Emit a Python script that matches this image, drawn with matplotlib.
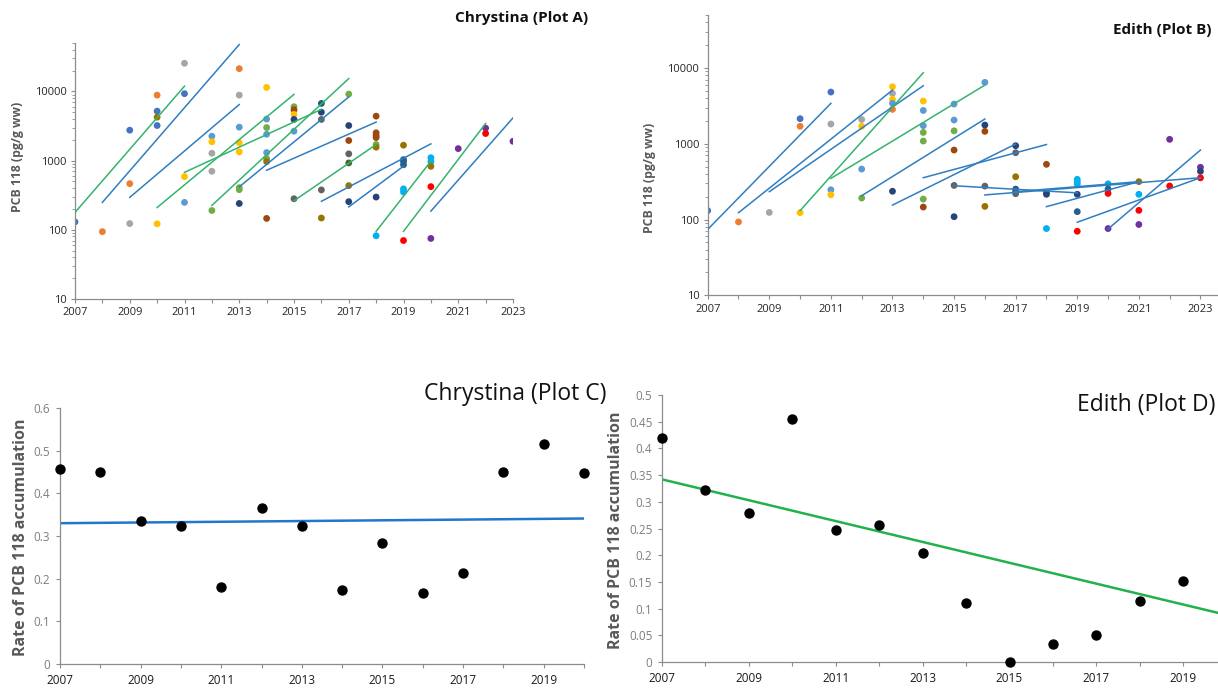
# PCB 118 in Chrystina and Edith: cohort trends (A, B) and accumulation rates (C, D)

import numpy as np
import matplotlib
matplotlib.use('Agg')
import matplotlib.pyplot as plt
from matplotlib import font_manager
from matplotlib.ticker import FixedLocator, LogLocator, NullFormatter, FuncFormatter

plt.rcParams['font.family'] = ['Open Sans', 'DejaVu Sans']
names = {f.name for f in font_manager.fontManager.ttflist}
narrow = 'Liberation Sans Narrow' if 'Liberation Sans Narrow' in names else 'Open Sans'

# excel style colours for the yearly samples
BL, OR, GR, YE, LB = '#4472C4', '#ED7D31', '#A5A5A5', '#FFC000', '#5B9BD5'
GN, NV, BR, DG, OL = '#70AD47', '#264478', '#9E480E', '#636363', '#997300'
DB, DK, CY, RD, PU, TL = '#255E91', '#43682B', '#00B0F0', '#FF0000', '#7030A0', '#1F5F6E'
LINE_B, LINE_G = '#2F7EC1', '#34B36F'

# ---- Plot A (Chrystina) samples
a_year = [2007, 2008,
          2009, 2009, 2009,
          2010, 2010, 2010, 2010, 2010,
          2011, 2011, 2011, 2011,
          2012, 2012, 2012, 2012, 2012,
          2013, 2013, 2013, 2013, 2013, 2013, 2013, 2013,
          2014, 2014, 2014, 2014, 2014, 2014, 2014, 2014,
          2015, 2015, 2015, 2015, 2015, 2015,
          2016, 2016, 2016, 2016, 2016,
          2017, 2017, 2017, 2017, 2017, 2017, 2017,
          2018, 2018, 2018, 2018, 2018, 2018, 2018, 2018,
          2019, 2019, 2019, 2019, 2019, 2019, 2019,
          2020, 2020, 2020, 2020, 2020,
          2021, 2022, 2022, 2023]
a_val = [130, 94,
         123, 464, 2750,
         8830, 5180, 4240, 3210, 122,
         25500, 9270, 586, 249,
         2250, 1870, 1276, 700, 190,
         21300, 8830, 3040, 1820, 1336, 406, 380, 240,
         11400, 3980, 3000, 2400, 1306, 1070, 967, 146,
         6000, 5420, 4640, 3930, 2660, 281,
         6700, 5000, 3930, 377, 148,
         9140, 3210, 1950, 1250, 925, 435, 255,
         4385, 2520, 2300, 2150, 1705, 1560, 297, 82,
         1667, 1032, 975, 870, 390, 352, 70,
         1100, 967, 826, 420, 75,
         1490, 2940, 2460, 1900]
a_col = [BL, OR,
         GR, OR, BL,
         OR, BL, OL, BL, YE,
         GR, BL, YE, LB,
         LB, YE, GR, GR, GN,
         OR, GR, LB, YE, YE, GN, GN, NV,
         YE, LB, GN, LB, LB, GN, OL, BR,
         GN, BR, YE, NV, LB, DG,
         TL, NV, DG, DG, OL,
         GN, NV, BR, DG, DK, OL, NV,
         BR, BR, BR, BR, GN, OL, NV, CY,
         OL, DB, DB, DB, CY, CY, RD,
         CY, CY, OL, RD, PU,
         PU, PU, RD, PU]

# Plot A trend lines: start year, end year, start value, end value, colour
a_x0 = [2007, 2008, 2009, 2010, 2011, 2012, 2013, 2014, 2015, 2016, 2017, 2018, 2019, 2020]
a_x1 = [2011, 2013, 2013, 2015, 2016, 2017, 2017, 2018, 2018, 2020, 2019, 2020, 2022, 2023]
a_y0 = [178, 249, 294, 210, 676, 225, 417, 725, 263, 258, 214, 95, 95, 186]
a_y1 = [11900, 47500, 6450, 9060, 5500, 15300, 8300, 3600, 1705, 1745, 830, 980, 3440, 4140]
a_lc = ['g', 'b', 'b', 'g', 'g', 'g', 'b', 'b', 'g', 'b', 'b', 'g', 'g', 'b']

# ---- Plot B (Edith) samples
b_year = [2007, 2008, 2009,
          2010, 2010, 2010,
          2011, 2011, 2011, 2011,
          2012, 2012, 2012, 2012,
          2013, 2013, 2013, 2013, 2013, 2013,
          2014, 2014, 2014, 2014, 2014, 2014, 2014,
          2015, 2015, 2015, 2015, 2015, 2015,
          2016, 2016, 2016, 2016, 2016,
          2017, 2017, 2017, 2017, 2017, 2017,
          2018, 2018, 2018, 2018,
          2019, 2019, 2019, 2019, 2019, 2019,
          2020, 2020, 2020, 2020,
          2021, 2021, 2021, 2021,
          2022, 2022,
          2023, 2023, 2023]
b_val = [131, 93, 124,
         2140, 1700, 123,
         4810, 1820, 247, 212,
         2090, 1700, 463, 192,
         5650, 4620, 3850, 3410, 2840, 236,
         3660, 2750, 1730, 1410, 1085, 186, 146,
         3340, 2055, 1480, 826, 282, 109,
         6460, 1766, 1458, 276, 149,
         942, 761, 367, 252, 233, 219,
         535, 228, 215, 76,
         339, 316, 294, 215, 127, 70,
         296, 252, 221, 76,
         316, 215, 132, 86,
         1143, 277,
         489, 433, 355]
b_col = [BL, OR, GR,
         BL, OR, YE,
         BL, GR, LB, YE,
         GR, YE, LB, GN,
         YE, GR, YE, LB, OR, NV,
         YE, LB, LB, GN, GN, GN, BR,
         LB, LB, GN, BR, DG, NV,
         LB, NV, BR, DG, OL,
         NV, DG, OL, DB, DB, DG,
         BR, DK, NV, CY,
         CY, CY, CY, NV, DB, RD,
         CY, DB, RD, PU,
         OL, CY, RD, PU,
         PU, RD,
         PU, NV, RD]

b_x0 = [2007, 2008, 2009, 2010, 2011, 2012, 2013, 2014, 2015, 2016, 2017, 2018, 2019, 2020]
b_x1 = [2011, 2013, 2014, 2014, 2016, 2016, 2017, 2018, 2019, 2023, 2021, 2021, 2023, 2023]
b_y0 = [74, 123, 233, 131, 349, 206, 155, 356, 279, 211, 233, 148, 92, 75]
b_y1 = [3410, 5100, 5820, 8650, 5940, 2120, 990, 977, 225, 356, 316, 316, 356, 826]
b_lc = ['b', 'b', 'b', 'g', 'g', 'b', 'b', 'b', 'b', 'b', 'b', 'b', 'b', 'b']

# ---- Plot C / D: rate of accumulation per year
c_year = list(range(2007, 2021))
c_rate = [0.456, 0.451, 0.336, 0.324, 0.181, 0.365, 0.323, 0.174, 0.284, 0.166,
          0.214, 0.451, 0.516, 0.448]
c_fit_x = [2007, 2020]
c_fit_y = [0.330, 0.341]

d_year = list(range(2007, 2020))
d_rate = [0.419, 0.323, 0.279, 0.455, 0.248, 0.256, 0.205, 0.111, 0.0, 0.034,
          0.050, 0.115, 0.151]
d_fit_x = [2007, 2019.8]
d_fit_y = [0.342, 0.092]

fig = plt.figure(figsize=(12.18, 6.94), dpi=100)
W, H = 1218.0, 694.0


def box(l, t, r, b):
    return [l / W, 1 - b / H, (r - l) / W, (b - t) / H]


def style_log(ax, xmax):
    ax.set_yscale('log')
    ax.set_ylim(10, 50000)
    ax.set_xlim(2007, xmax)
    ax.yaxis.set_major_locator(FixedLocator([10, 100, 1000, 10000]))
    ax.yaxis.set_major_formatter(FuncFormatter(lambda v, p: '%d' % v))
    ax.yaxis.set_minor_locator(LogLocator(base=10, subs=range(2, 10)))
    ax.yaxis.set_minor_formatter(NullFormatter())
    yrs = list(range(2007, 2024))
    ax.set_xticks(yrs)
    ax.set_xticklabels([str(y) if y % 2 == 1 else '' for y in yrs])
    for s in ['top', 'right']:
        ax.spines[s].set_visible(False)
    for s in ['left', 'bottom']:
        ax.spines[s].set_color('#8c8c8c')
        ax.spines[s].set_linewidth(0.9)
    ax.tick_params(axis='both', which='major', length=3, width=0.8, color='#8c8c8c',
                   labelsize=8, labelcolor='#262626', pad=3)
    ax.tick_params(axis='y', which='minor', length=2, width=0.6, color='#8c8c8c')
    ax.set_facecolor('none')


def draw_cohorts(ax, yr, val, col, x0, x1, y0, y1, lc):
    ax.scatter(yr, val, c=col, s=24, linewidths=0, zorder=2)
    for i in range(len(x0)):
        ax.plot([x0[i], x1[i]], [y0[i], y1[i]],
                color=LINE_G if lc[i] == 'g' else LINE_B, lw=1.1, zorder=3)


axA = fig.add_axes(box(75, 43, 513, 299))
style_log(axA, 2023)
draw_cohorts(axA, a_year, a_val, a_col, a_x0, a_x1, a_y0, a_y1, a_lc)

axB = fig.add_axes(box(707.7, 15, 1218, 295.3))
style_log(axB, 2023.57)
draw_cohorts(axB, b_year, b_val, b_col, b_x0, b_x1, b_y0, b_y1, b_lc)

ylab_kw = dict(rotation=90, ha='center', va='center', fontweight='bold', color='#595959')
fig.text(18 / W, 1 - 157 / H, 'PCB 118 (pg/g ww)', fontsize=8.8, **ylab_kw)
fig.text(650 / W, 1 - 178 / H, 'PCB 118 (pg/g ww)', fontsize=8.8, **ylab_kw)
fig.text(522 / W, 1 - 18 / H, 'Chrystina (Plot A)', fontsize=11, fontweight='bold',
         ha='center', va='center', color='#111111')
fig.text(1113 / W, 1 - 30 / H, 'Edith (Plot B)', fontsize=11, fontweight='bold',
         ha='left', va='center', color='#111111')


def style_rate(ax, xmax, ymax, step):
    ax.set_xlim(2007, xmax)
    ax.set_ylim(0, ymax)
    yrs = list(range(2007, int(xmax) + 1))
    ax.set_xticks(yrs)
    ax.set_xticklabels([str(y) if y % 2 == 1 else '' for y in yrs])
    ticks = np.round(np.arange(0, ymax + step / 2, step), 2)
    ax.set_yticks(ticks)
    ax.set_yticklabels(['%g' % t for t in ticks])
    for s in ['top', 'right']:
        ax.spines[s].set_visible(False)
    for s in ['left', 'bottom']:
        ax.spines[s].set_color('#8c8c8c')
        ax.spines[s].set_linewidth(0.9)
    ax.tick_params(axis='both', length=3, width=0.8, color='#8c8c8c', pad=4)
    for t in ax.get_yticklabels():
        t.set_fontfamily(narrow)
        t.set_fontsize(8.5)
        t.set_color('#7f7f7f')
    for t in ax.get_xticklabels():
        t.set_fontfamily(narrow)
        t.set_fontsize(8.5)
        t.set_color('#1a1a1a')
    ax.set_facecolor('none')


axC = fig.add_axes(box(60, 408, 584, 664))
style_rate(axC, 2020, 0.6, 0.1)
axC.plot(c_fit_x, c_fit_y, color='#1F78CC', lw=1.8, zorder=2)
axC.scatter(c_year, c_rate, color='black', s=42, zorder=3, clip_on=False)

axD = fig.add_axes(box(662, 395, 1218, 662))
style_rate(axD, 2019.8, 0.5, 0.05)
axD.plot(d_fit_x, d_fit_y, color='#22B24C', lw=1.8, zorder=2)
axD.scatter(d_year, d_rate, color='black', s=42, zorder=3, clip_on=False)

fig.text(21 / W, 1 - 537 / H, 'Rate of PCB 118 accumulation', fontsize=11.5, **ylab_kw)
fig.text(616 / W, 1 - 530 / H, 'Rate of PCB 118 accumulation', fontsize=11.5, **ylab_kw)
fig.text(606 / W, 1 - 394 / H, 'Chrystina (Plot C)', fontsize=16.5, ha='right', va='center',
         color='#111111')
fig.text(1077 / W, 1 - 405 / H, 'Edith (Plot D)', fontsize=16.5, ha='left', va='center',
         color='#111111')

fig.savefig('out.png', dpi=100, facecolor='white')
